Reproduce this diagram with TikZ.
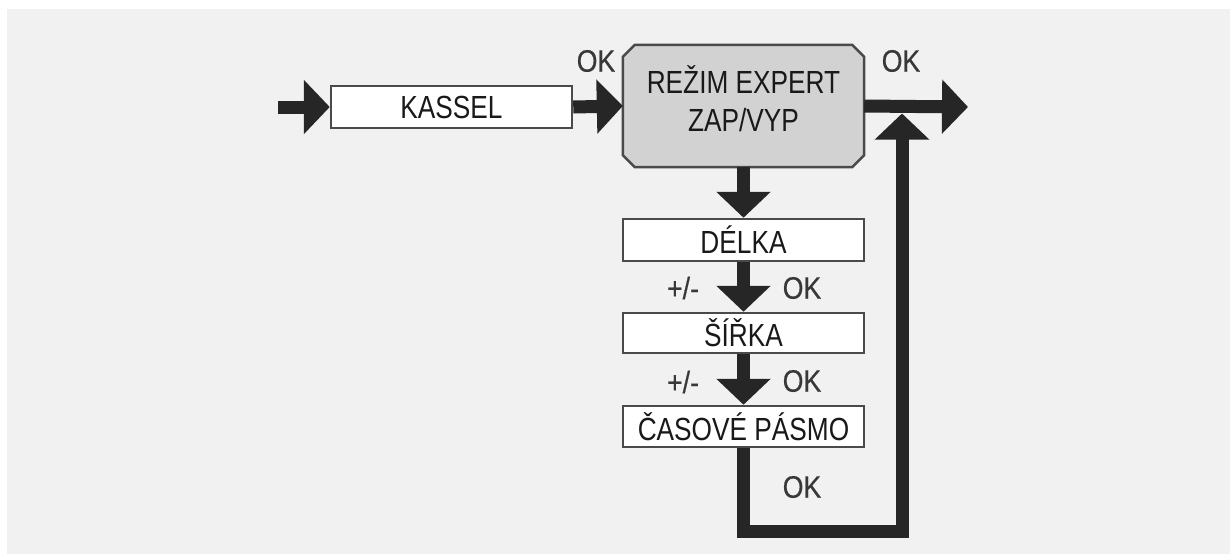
\documentclass[tikz,border=0pt]{standalone}
\usepackage{fontspec}
\setmainfont{Liberation Sans}[FakeStretch=0.82]
\newfontfamily\labfont{Liberation Sans}[FakeStretch=0.86,FakeBold=0.5]
\usetikzlibrary{arrows.meta,calc}
\definecolor{bg}{HTML}{F1F1F1}
\definecolor{arr}{HTML}{262626}
\definecolor{bord}{HTML}{4A4A4A}
\definecolor{boxgray}{HTML}{D2D2D2}
\definecolor{lbl}{HTML}{383838}
\tikzset{
  stepbox/.style={draw=bord, line width=2.5pt, fill=white, minimum width=241pt, inner sep=0pt, text=black!90, font=\fontsize{32}{38}\selectfont},
  bigarrow/.style={draw=arr, line width=13pt, -{Triangle[width=53pt,length=26pt]}},
  thickline/.style={draw=arr, line width=13pt, line join=miter},
  lab/.style={text=lbl, font=\labfont\fontsize{31}{36}\selectfont, inner sep=0pt}
}
\begin{document}
\begin{tikzpicture}[x=1pt,y=-1pt]
\useasboundingbox (0,0) rectangle (1230,554);
\fill[bg] (7,9) rectangle (1230,554);
% boxes
\node[stepbox, minimum height=42pt] (kassel) at (451.5,107) {KASSEL};
\node[minimum width=241pt, minimum height=122pt, inner sep=0pt] (expert) at (743.5,106) {};
\draw[draw=bord, line width=2.5pt, fill=boxgray, line join=miter]
  ($(expert.north west)+(12,0)$) -- ($(expert.north east)+(-12,0)$) -- ($(expert.north east)+(0,12)$)
  -- ($(expert.south east)+(0,-12)$) -- ($(expert.south east)+(-12,0)$) -- ($(expert.south west)+(12,0)$)
  -- ($(expert.south west)+(0,-12)$) -- ($(expert.north west)+(0,12)$) -- cycle;
\node[align=center, text=black!90, font=\fontsize{32}{38}\selectfont, inner sep=0pt] (experttext) at (743.5,99) {REŽIM EXPERT\\ZAP/VYP};
\node[stepbox, minimum height=42pt] (delka) at (743.5,240) {DÉLKA};
\node[stepbox, minimum height=40pt] (sirka) at (743.5,333) {ŠÍŘKA};
\node[stepbox, minimum height=41pt] (casove) at (743.5,426.5) {ČASOVÉ PÁSMO};
% coordinates
\coordinate (in) at (278,107);
\coordinate (out) at (968,107);
\coordinate (c1) at (743.5,531.5);
\coordinate (c2) at (902,531.5);
\coordinate (ret) at (902,113.5);
\coordinate (retbase) at (902,150);
% arrows
\draw[bigarrow] (in) -- (kassel.west);
\draw[bigarrow] (kassel.east) -- (expert.west);
\draw[bigarrow] (expert.east) -- (out);
\draw[bigarrow] (expert.south) -- (delka.north);
\draw[bigarrow] (delka.south) -- (sirka.north);
\draw[bigarrow] (sirka.south) -- (casove.north);
\draw[thickline] (casove.south) -- (c1) -- (c2) -- (retbase);
\draw[bigarrow] (retbase) -- (ret);
% labels
\node[lab] (ok1) at (596,61) {OK};
\node[lab] (ok2) at (901,61) {OK};
\node[lab] (pm1) at (683,288) {+/-};
\node[lab] (ok3) at (802,288) {OK};
\node[lab] (pm2) at (683,382) {+/-};
\node[lab] (ok4) at (802,381) {OK};
\node[lab] (ok5) at (802,487) {OK};
\end{tikzpicture}
\end{document}
